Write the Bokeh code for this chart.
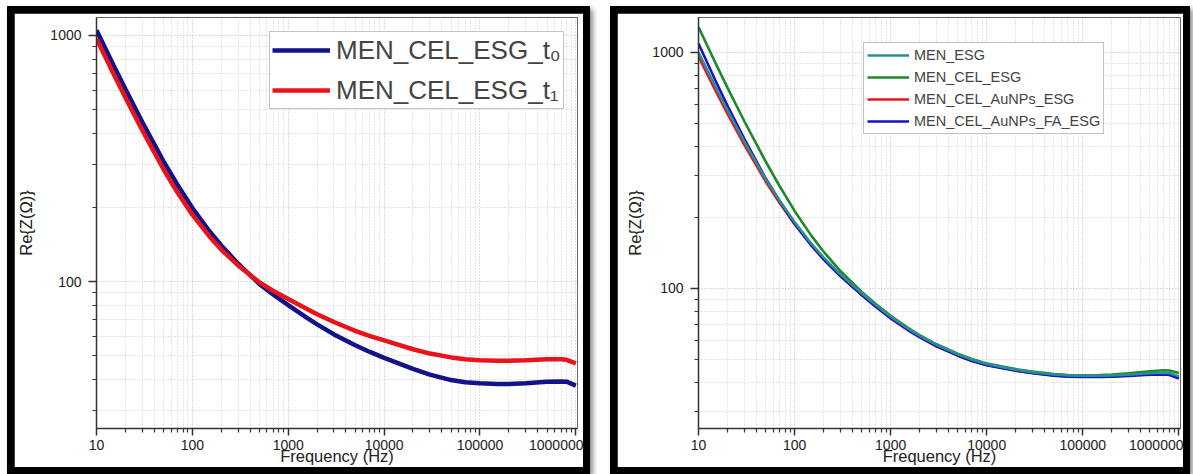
from bokeh.plotting import figure
from bokeh.models import Range1d, FixedTicker, CustomJSTickFormatter, Legend, LegendItem
from bokeh.layouts import row, column
from bokeh.embed import file_html
from bokeh.resources import INLINE

# ---------------- data ----------------
freq = [10, 15, 20, 30, 50, 70, 100, 150, 200, 300,
        500, 700, 1000, 1500, 2000, 3000, 5000, 7000,
        1e4, 2e4, 3e4, 5e4, 7e4, 1e5, 1.5e5, 2e5, 3e5, 5e5, 7e5, 8e5, 1e6]

# left panel
t0 = [1050, 759, 606, 445, 308, 247, 199, 160.5, 140.2, 118.2,
      97.8, 88.4, 80.3, 72.0, 67.0, 61.0, 55.1, 51.9,
      49.0, 44.2, 41.9, 39.8, 39.0, 38.6, 38.4, 38.4, 38.6, 39.2, 39.3, 39.2, 37.8]
t1 = [970, 701, 560, 412, 286, 230, 187, 153, 135, 116.3,
      99.3, 91.6, 85.0, 78.1, 73.7, 68.5, 63.1, 60.2,
      57.7, 53.1, 51.0, 49.2, 48.4, 47.9, 47.7, 47.7, 47.9, 48.4, 48.4, 48.1, 46.5]
left_labels = ["MEN_CEL_ESG_t\u2080", "MEN_CEL_ESG_t\u2081"]

# right panel
men_esg = [1000, 717, 570, 419, 291, 235, 191, 154.5, 135.4, 114.7,
           95.4, 85.1, 75.9, 67.8, 63.1, 57.7, 52.6, 50.0,
           47.9, 45.3, 44.2, 43.2, 42.8, 42.7, 42.7, 42.8, 43.1, 43.7, 43.9, 43.8, 42.4]
men_cel_esg = [1280, 903, 709, 511, 345, 271, 213, 167, 143.4, 118.5,
               96.6, 85.9, 76.6, 68.2, 63.4, 58.0, 52.9, 50.2,
               48.1, 45.5, 44.4, 43.4, 43.0, 42.9, 43.0, 43.2, 43.7, 44.6, 45.0, 44.9, 43.8]
men_cel_aunps_esg = [960, 690, 550, 406, 284, 230, 187, 151.8, 133.2, 112.9,
                     93.9, 83.8, 74.8, 66.9, 62.3, 57.0, 52.0, 49.4,
                     47.4, 44.9, 43.8, 42.8, 42.4, 42.3, 42.3, 42.4, 42.8, 43.4, 43.6, 43.5, 42.1]
men_cel_aunps_fa_esg = [1090, 760, 595, 430, 293, 234, 188, 152, 133, 112.9,
                        93.8, 83.7, 74.7, 66.8, 62.2, 56.9, 51.9, 49.3,
                        47.3, 44.8, 43.7, 42.7, 42.3, 42.2, 42.2, 42.3, 42.6, 43.1, 43.2, 43.0, 41.5]
right_labels = ["MEN_ESG", "MEN_CEL_ESG", "MEN_CEL_AuNPs_ESG", "MEN_CEL_AuNPs_FA_ESG"]

x_major = [10, 100, 1000, 10000, 100000, 1000000]
y_major = [100, 1000]
x_minor = [k * 10 ** d for d in range(1, 6) for k in range(2, 10)]
y_minor = [k * 10 ** d for d in range(1, 4) for k in range(2, 10)]

FONT = "Liberation Sans"


def make_fig(w, h, ymin, ymax, bl, bt, br, bb, ylab_standoff):
    p = figure(width=w, height=h, x_axis_type="log", y_axis_type="log",
               x_range=Range1d(10, 1.04e6), y_range=Range1d(ymin, ymax),
               output_backend="svg", toolbar_location=None,
               min_border_left=bl, min_border_top=bt,
               min_border_right=br, min_border_bottom=bb)
    p.xaxis.ticker = FixedTicker(ticks=x_major, minor_ticks=x_minor)
    p.yaxis.ticker = FixedTicker(ticks=y_major, minor_ticks=y_minor)
    fmt = CustomJSTickFormatter(code="return tick.toFixed(0);")
    p.xaxis.formatter = fmt
    p.yaxis.formatter = fmt
    p.xaxis.axis_label = "Frequency (Hz)"
    p.yaxis.axis_label = "Re{Z(\u03a9)}"
    for ax in (p.xaxis[0], p.yaxis[0]):
        ax.axis_line_color = "#333333"
        ax.axis_line_width = 1.5
        ax.major_tick_line_color = "#333333"
        ax.major_tick_line_width = 1.5
        ax.major_tick_out = 8
        ax.major_tick_in = 0
        ax.minor_tick_line_color = "#333333"
        ax.minor_tick_line_width = 1.2
        ax.minor_tick_out = 4
        ax.minor_tick_in = 0
        ax.major_label_text_font = FONT
        ax.major_label_text_font_size = "14px"
        ax.major_label_text_color = "#222222"
        ax.axis_label_text_font = FONT
        ax.axis_label_text_font_size = "16.5px"
        ax.axis_label_text_font_style = "normal"
        ax.axis_label_text_color = "#222222"
    p.xaxis.major_tick_out = 7
    p.xaxis.major_label_standoff = 4
    p.xaxis.axis_label_standoff = -6
    p.yaxis.major_label_standoff = 7
    p.yaxis.axis_label_standoff = ylab_standoff
    for g in (p.xgrid[0], p.ygrid[0]):
        g.grid_line_color = "#a8a8a8"
        g.grid_line_dash = "1 2"
        g.grid_line_alpha = 0.8
        g.minor_grid_line_color = "#c0c0c0"
        g.minor_grid_line_dash = "1 2"
        g.minor_grid_line_alpha = 0.8
    p.outline_line_color = "#666666"
    p.outline_line_width = 1
    p.background_fill_color = "white"
    p.border_fill_color = "white"
    return p


def framed(p, margin):
    return column(p, margin=margin,
                  styles={"background-color": "black", "padding": "7px",
                          "box-shadow": "3px 3px 5px rgba(0,0,0,0.45)"})


# ---------------- left panel ----------------
p1 = make_fig(569, 454, 25.3, 1183, 81, 4, 6, 39, 12)
r_t0 = p1.line(freq, t0, line_color="#12128a", line_width=4.5)
r_t1 = p1.line(freq, t1, line_color="#e8131b", line_width=4.5)
leg1 = Legend(items=[LegendItem(label=left_labels[0], renderers=[r_t0]),
                     LegendItem(label=left_labels[1], renderers=[r_t1])],
              location=(173, 319))
leg1.label_text_font = FONT
leg1.label_text_font_size = "26px"
leg1.glyph_width = 58
leg1.glyph_height = 32
leg1.label_height = 32
leg1.spacing = 8
leg1.padding = 2
leg1.margin = 0
leg1.label_standoff = 6
leg1.border_line_color = "#888888"
leg1.border_line_width = 1
p1.add_layout(leg1)

# ---------------- right panel ----------------
p2 = make_fig(566, 454, 25.5, 1406, 81, 4, 3, 39, 5)
r_red = p2.line(freq, men_cel_aunps_esg, line_color="#e3161c", line_width=2.6)
r_blue = p2.line(freq, men_cel_aunps_fa_esg, line_color="#1414c4", line_width=2.6)
r_green = p2.line(freq, men_cel_esg, line_color="#1c8a2a", line_width=2.6)
r_teal = p2.line(freq, men_esg, line_color="#2b8f91", line_width=2.6)
leg2 = Legend(items=[LegendItem(label=right_labels[0], renderers=[r_teal]),
                     LegendItem(label=right_labels[1], renderers=[r_green]),
                     LegendItem(label=right_labels[2], renderers=[r_red]),
                     LegendItem(label=right_labels[3], renderers=[r_blue])],
              location=(165, 294))
leg2.label_text_font = FONT
leg2.label_text_font_size = "14.5px"
leg2.glyph_width = 42
leg2.glyph_height = 18
leg2.label_height = 18
leg2.spacing = 4
leg2.padding = 3
leg2.margin = 0
leg2.label_standoff = 5
leg2.border_line_color = "#888888"
leg2.border_line_width = 1
p2.add_layout(leg2)

layout = row(framed(p1, (6, 0, 0, 7)), framed(p2, (6, 0, 0, 20)))
open("out.html", "w").write(file_html(layout, INLINE))
